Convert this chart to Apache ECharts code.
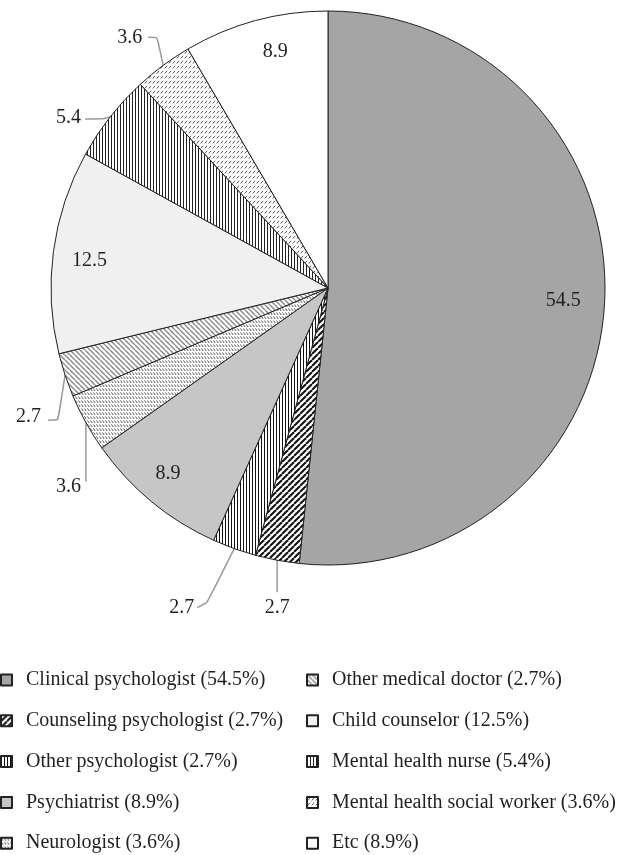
<!DOCTYPE html>
<html>
<head>
<meta charset="utf-8">
<script src="https://cdn.jsdelivr.net/npm/echarts@6/dist/echarts.min.js"></script>
<style>
  html, body { margin: 0; padding: 0; background: #fff; }
  #chart { width: 622px; height: 855px; }
</style>
</head>
<body>
<div id="chart"></div>
<script>
// Professions of respondents (share in %)
const categories = [
  'Clinical psychologist',
  'Counseling psychologist',
  'Other psychologist',
  'Psychiatrist',
  'Neurologist',
  'Other medical doctor',
  'Child counselor',
  'Mental health nurse',
  'Mental health social worker',
  'Etc'
];
const values = [54.5, 2.7, 2.7, 8.9, 3.6, 2.7, 12.5, 5.4, 3.6, 8.9];

// Layout constants
const CX = 328, CY = 288, R = 277;
const FONT = '"Liberation Serif", "Times New Roman", serif';
const TEXT_COLOR = '#231f20';

// Fill patterns drawn on small tiles
function tile(w, h, draw) {
  const c = document.createElement('canvas');
  c.width = w; c.height = h;
  const ctx = c.getContext('2d');
  ctx.fillStyle = '#ffffff';
  ctx.fillRect(0, 0, w, h);
  draw(ctx, w, h);
  return { image: c, repeat: 'repeat' };
}
function slashLines(s, lw, color, back) {
  return tile(s, s, (ctx) => {
    ctx.strokeStyle = color; ctx.lineWidth = lw;
    for (let k = -1; k <= 1; k++) {
      ctx.beginPath();
      if (back) { ctx.moveTo(k * s, 0); ctx.lineTo(k * s + s, s); }
      else { ctx.moveTo(k * s, s); ctx.lineTo(k * s + s, 0); }
      ctx.stroke();
    }
  });
}
function verticalLines(s, lw, color) {
  return tile(s, 4, (ctx) => {
    ctx.fillStyle = color;
    ctx.fillRect(0, 0, lw, 4);
  });
}
function dashRows(w, h, color, back) {
  return tile(w, h, (ctx) => {
    ctx.strokeStyle = color; ctx.lineWidth = 1;
    ctx.beginPath();
    if (back) { ctx.moveTo(0.5, 0.5); ctx.lineTo(2.2, 3); }
    else { ctx.moveTo(0.8, 3.5); ctx.lineTo(3, 0.8); }
    ctx.stroke();
  });
}

const fills = [
  '#a5a5a5',
  slashLines(6, 2, '#111', false),
  verticalLines(3, 1, '#111'),
  '#c6c6c6',
  dashRows(3, 4, '#555', true),
  slashLines(5, 1.4, '#888', true),
  '#f0f0f0',
  verticalLines(3, 1, '#222'),
  dashRows(4, 5, '#555', false),
  '#ffffff'
];

// Leader lines for the small slices: offsets from the slice's rim point
const leaders = {
  1: { pts: [[0, 0], [0, 32]], label: [0, 47], align: 'center' },
  2: { pts: [[0, 0], [-27, 54], [-37, 59]], label: [-40, 59], align: 'right' },
  4: { pts: [[0, 0], [0, 59]], label: [-5, 64], align: 'right' },
  5: { pts: [[0, 0], [-7, 45], [-17, 45]], label: [-24, 42], align: 'right' },
  7: { pts: [[0, 0], [-8, 2], [-25, 2]], label: [-29, 1], align: 'right' },
  8: { pts: [[0, 0], [-6, -28], [-15, -28]], label: [-21, -28], align: 'right' }
};
// Small nudges for the labels placed inside their slices
const insideNudge = { 3: [-10, 4], 6: [-5, 4], 9: [9, -9] };

const total = values.reduce((a, b) => a + b, 0);
function midAngle(i) {
  let before = 0;
  for (let k = 0; k < i; k++) before += values[k];
  return (before + values[i] / 2) / total * Math.PI * 2;
}
function polar(i, r) {
  const a = midAngle(i);
  return [CX + r * Math.sin(a), CY - r * Math.cos(a)];
}

const data = categories.map((name, i) => {
  const outside = leaders[i] !== undefined;
  return {
    name: name,
    value: values[i],
    itemStyle: { color: fills[i] },
    label: { position: outside ? 'outside' : 'inside' },
    labelLine: { show: outside }
  };
});

const legendText = {
  fontFamily: FONT, fontSize: 20, color: TEXT_COLOR,
  lineHeight: 20, padding: [0, 0, 0, 9]
};
function legendFormatter(name) {
  return name + ' (' + values[categories.indexOf(name)] + '%)';
}
function legendColumn(names, left) {
  return {
    data: names, orient: 'vertical', left: left, top: 670, height: 185,
    padding: 0, itemWidth: 11, itemHeight: 11, itemGap: 20.8,
    selectedMode: false, icon: 'rect',
    textStyle: legendText, formatter: legendFormatter
  };
}

const chart = echarts.init(document.getElementById('chart'), null, { renderer: 'canvas' });
chart.setOption({
  animation: false,
  backgroundColor: '#ffffff',
  legend: [
    legendColumn(categories.slice(0, 5), 0),
    legendColumn(categories.slice(5), 306)
  ],
  series: [{
    type: 'pie',
    center: [CX, CY],
    radius: R,
    startAngle: 90,
    clockwise: true,
    avoidLabelOverlap: false,
    silent: true,
    itemStyle: { borderColor: '#222', borderWidth: 1 },
    label: {
      formatter: '{c}',
      fontFamily: FONT, fontSize: 20, color: TEXT_COLOR
    },
    labelLine: {
      lineStyle: { color: '#9a9a9a', width: 1.5 },
      smooth: 0.15
    },
    labelLayout: function (params) {
      const i = params.dataIndex;
      const ld = leaders[i];
      if (!ld) {
        const p = polar(i, R * 0.85);
        const n = insideNudge[i] || [0, 0];
        return { x: p[0] + n[0], y: p[1] + n[1], align: 'center', verticalAlign: 'middle' };
      }
      const p = polar(i, R);
      return {
        x: p[0] + ld.label[0],
        y: p[1] + ld.label[1],
        align: ld.align,
        verticalAlign: 'middle',
        labelLinePoints: ld.pts.map(o => [p[0] + o[0], p[1] + o[1]])
      };
    },
    data: data
  }]
});
</script>
</body>
</html>
